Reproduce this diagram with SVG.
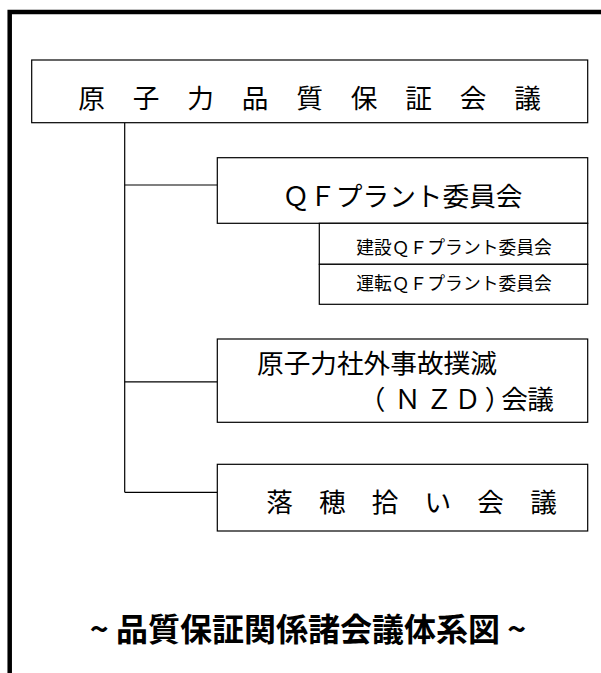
<svg xmlns="http://www.w3.org/2000/svg" width="601" height="673" viewBox="0 0 601 673">
<style>
.box{fill:#fff;stroke:#000;stroke-width:1.2}
.ln{fill:none;stroke:#000;stroke-width:1.2}
.t{font-family:"Noto Sans CJK JP","Noto Sans CJK SC",sans-serif;fill:#000}
.big{font-size:26.67px}
.sm{font-size:17.8px}
.ttl{font-size:32px;font-weight:bold}
</style>
<rect width="601" height="673" fill="#fff"/>
<path d="M9.7 680 V12 H610" fill="none" stroke="#000" stroke-width="4.5"/>
<g id="connectors">
<path class="ln" d="M124.7 122.7 V492.3"/>
<path class="ln" d="M124.7 185 H217.3"/>
<path class="ln" d="M124.7 381.8 H217.3"/>
<path class="ln" d="M124.7 492.3 H217.3"/>
</g>
<g id="main">
<rect class="box" x="31.7" y="60" width="556" height="62.7"/>
<text class="t big" y="107.5" text-anchor="middle" x="91.7 146.2 200.6 255.1 309.6 364.1 418.5 473 527.5">原子力品質保証会議</text>
</g>
<g id="qf">
<rect class="box" x="217.3" y="157.7" width="370.4" height="65.6"/>
<text class="t big" x="402.5" y="206" text-anchor="middle">ＱＦプラント委員会</text>
</g>
<g id="qf-build">
<rect class="box" x="319.3" y="223.3" width="268.4" height="41"/>
<text class="t sm" x="454" y="254" text-anchor="middle">建設ＱＦプラント委員会</text>
</g>
<g id="qf-op">
<rect class="box" x="319.3" y="264.3" width="268.4" height="40"/>
<text class="t sm" x="454" y="289.5" text-anchor="middle">運転ＱＦプラント委員会</text>
</g>
<g id="nzd">
<rect class="box" x="217.3" y="339" width="370.4" height="83.3"/>
<text class="t big" x="257" y="373">原子力社外事故撲滅</text>
<text class="t big" y="409" text-anchor="middle" x="372 407.5 439 467.5 498 514.5 540.5">（ＮＺＤ）会議</text>
</g>
<g id="ochibo">
<rect class="box" x="217.3" y="464.3" width="370.4" height="66.7"/>
<text class="t big" y="512" text-anchor="middle" x="279.5 332.3 385.1 437.9 490.7 543.5">落穂拾い会議</text>
</g>
<text class="t ttl" x="308" y="641" text-anchor="middle">~ 品質保証関係諸会議体系図 ~</text>
</svg>
